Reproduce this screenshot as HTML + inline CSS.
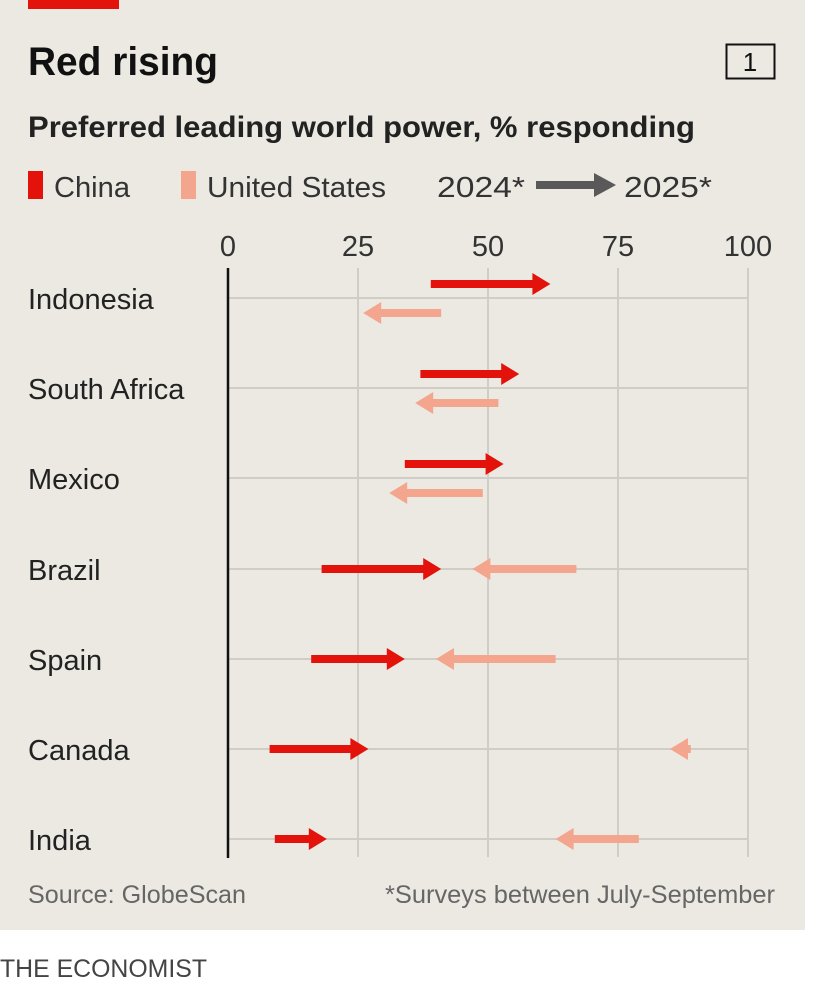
<!DOCTYPE html>
<html><head><meta charset="utf-8">
<style>
body{margin:0;width:824px;height:992px;background:#fff;overflow:hidden;font-family:"Liberation Sans Narrow","Liberation Sans",sans-serif;}
svg{display:block}
</style></head>
<body>
<svg width="824" height="992" viewBox="0 0 824 992">
<rect x="0" y="0" width="805" height="930" fill="#ebe9e1"/>
<rect x="28" y="0" width="91" height="9" fill="#e3120b"/>
<text x="28" y="75" font-size="40" font-weight="bold" fill="#111" textLength="190" lengthAdjust="spacingAndGlyphs">Red rising</text>
<rect x="726.5" y="44.5" width="48" height="34" fill="none" stroke="#111" stroke-width="2"/>
<text x="750" y="71" font-size="26" text-anchor="middle" fill="#111">1</text>
<text x="28" y="137" font-size="30" font-weight="bold" fill="#222" textLength="667" lengthAdjust="spacingAndGlyphs">Preferred leading world power, % responding</text>
<g>
<rect x="28" y="171" width="15" height="28" fill="#e3120b"/>
<text x="54" y="197" font-size="29" fill="#333" textLength="76" lengthAdjust="spacingAndGlyphs">China</text>
<rect x="181" y="171" width="15" height="28" fill="#f4a58e"/>
<text x="207" y="197" font-size="29" fill="#333" textLength="179" lengthAdjust="spacingAndGlyphs">United States</text>
<text x="437" y="197" font-size="29" fill="#333" textLength="88" lengthAdjust="spacingAndGlyphs">2024*</text>
<rect x="536" y="181" width="60" height="8" fill="#595959"/>
<polygon points="594,173 616,185 594,197" fill="#595959"/>
<text x="624" y="197" font-size="29" fill="#333" textLength="88" lengthAdjust="spacingAndGlyphs">2025*</text>
</g>
<g id="plot"></g>
<text x="28" y="903" font-size="25" fill="#666" textLength="218" lengthAdjust="spacingAndGlyphs">Source: GlobeScan</text>
<text x="775" y="903" font-size="25" fill="#666" text-anchor="end" textLength="390" lengthAdjust="spacingAndGlyphs">*Surveys between July-September</text>
<text x="0" y="977" font-size="25" fill="#444" textLength="207" lengthAdjust="spacingAndGlyphs">THE ECONOMIST</text>
</svg>
<script>
const countries=["Indonesia","South Africa","Mexico","Brazil","Spain","Canada","India"];
const china2024=[39,37,34,18,16,8,9];
const china2025=[62,56,53,41,34,27,19];
const us2024=[41,52,49,67,63,89,79];
const us2025=[26,36,31,47,40,85,63];
const ticks=[0,25,50,75,100];
const rowY=[298,388,478,569,659,749,839];
const split=[true,true,true,false,false,false,false];

const NS="http://www.w3.org/2000/svg";
const g=document.getElementById('plot');
const x=v=>228+v*5.2;
function mk(t,a){const e=document.createElementNS(NS,t);for(const k in a)e.setAttribute(k,a[k]);g.appendChild(e);return e;}
ticks.forEach(t=>{
  if(t>0){const l=mk('line',{x1:x(t),x2:x(t),y1:268,y2:857,stroke:'#cfcdc6','stroke-width':2});
  
  }
  const tx=mk('text',{x:x(t),y:256,'font-size':29,'text-anchor':'middle',fill:'#333'});
  tx.textContent=t;
  
  
});
countries.forEach((c,i)=>{
  const y=rowY[i];
  const hl=mk('line',{x1:x(0),x2:x(100),y1:y,y2:y,stroke:'#cfcdc6','stroke-width':2});
  
  
  const lb=mk('text',{x:28,y:y+11,'font-size':29,fill:'#222'});
  lb.textContent=c;
  
  
});
function arrow(a,b,y,col,name){
  const dir=b>a?1:-1, x1=x(a), x2=x(b), hl=18, hh=11, sw=4;
  const xb=x2-dir*hl;
  const pts=[[x1,y-sw],[xb,y-sw],[xb,y-hh],[x2,y],[xb,y+hh],[xb,y+sw],[x1,y+sw]].map(p=>p.join(',')).join(' ');
  const p=mk('polygon',{points:pts,fill:col});
  
  
}
countries.forEach((c,i)=>{
  const y=rowY[i];
  const cy=split[i]?y-14:y, uy=split[i]?y+15:y;
  arrow(china2024[i],china2025[i],cy,'#e3120b','china-arrow');
  arrow(us2024[i],us2025[i],uy,'#f4a58e','us-arrow');
});
const ax=mk('line',{x1:x(0),x2:x(0),y1:268,y2:858,stroke:'#111','stroke-width':2.5});


</script>
</body></html>
